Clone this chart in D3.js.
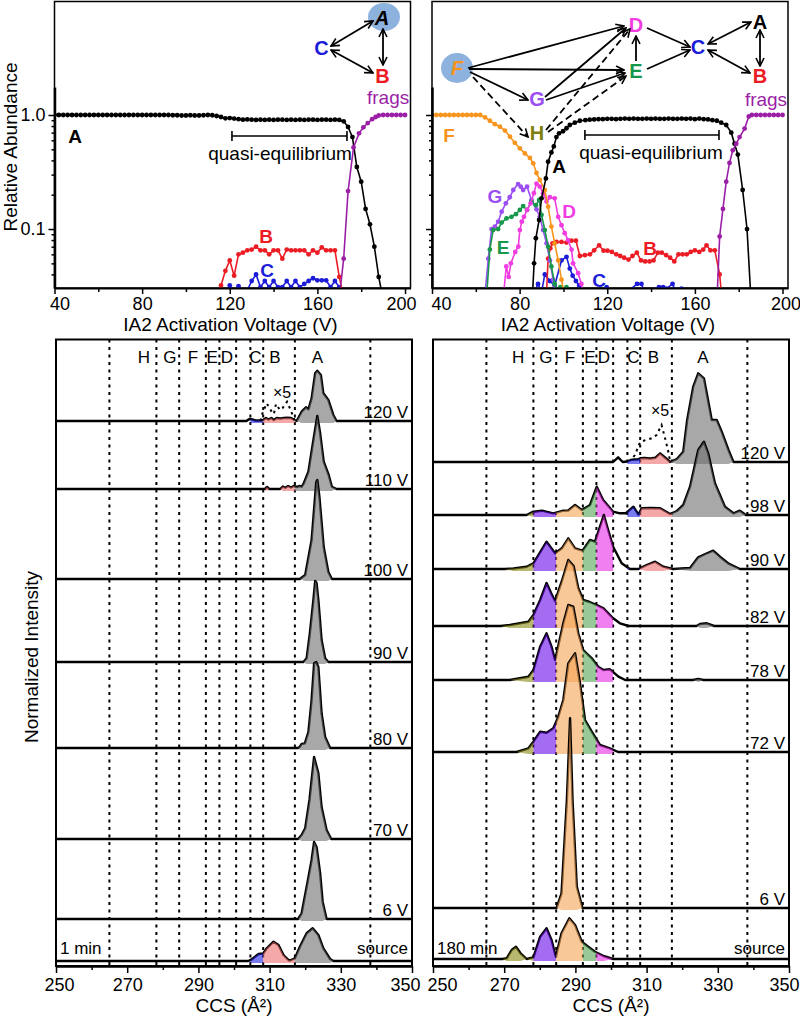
<!DOCTYPE html>
<html><head><meta charset="utf-8">
<script src="https://cdn.jsdelivr.net/npm/d3@7"></script>
<style>body{margin:0;background:#fff}svg{display:block}</style>
</head><body><svg id="c" width="800" height="1016"></svg>
<script>
// ================= DATA =================
const voltTicks = [40,60,80,100,120,140,160,180,200];
const voltLabels = [40,80,120,160,200];
const abundMajor = [0.1, 1];
const abundMinor = [0.04,0.05,0.06,0.07,0.08,0.09,0.2,0.3,0.4,0.5,0.6,0.7,0.8,0.9];

// top-left (1 min) relative abundances vs IA2 voltage
const tl_A = [[40,1],[42,1],[44,1],[46,1],[48,1],[50,1],[52,1],[54,1],[56,1],[58,1],[60,1],[62,1],[64,1],[66,1],[68,1],[70,1],[72,1],[74,1],[76,1],[78,1],[80,1],[82,1],[84,1],[86,1],[88,1],[90,1],[92,1],[94,0.995],[96,0.995],[98,0.99],[100,0.99],[102,0.995],[104,0.99],[106,0.99],[108,0.995],[110,1],[112,0.995],[114,0.98],[116,0.96],[118,0.935],[120,0.94],[122,0.93],[124,0.92],[126,0.91],[128,0.915],[130,0.91],[132,0.905],[134,0.91],[136,0.905],[138,0.91],[140,0.905],[142,0.91],[144,0.91],[146,0.905],[148,0.91],[150,0.905],[152,0.91],[154,0.905],[156,0.91],[158,0.91],[160,0.905],[162,0.91],[164,0.91],[166,0.905],[168,0.91],[170,0.905],[172,0.88],[174,0.785],[176,0.64],[178,0.35],[180,0.26],[182,0.15],[184,0.11],[186,0.07],[188,0.038],[190,0.024]];
const tl_B = [[114,0.025],[116,0.032],[118,0.043],[120,0.053],[122,0.039],[124,0.06],[126,0.062],[128,0.065],[130,0.066],[132,0.07],[134,0.065],[136,0.065],[138,0.06],[140,0.065],[142,0.065],[144,0.055],[146,0.066],[148,0.065],[150,0.065],[152,0.065],[154,0.065],[156,0.06],[158,0.065],[160,0.062],[162,0.069],[164,0.065],[166,0.065],[168,0.065],[170,0.038],[172,0.025]];
const tl_C = [[118,0.027],[120,0.032],[122,0.027],[124,0.0316],[126,0.027],[128,0.029],[130,0.035],[132,0.04],[134,0.031],[136,0.035],[138,0.031],[140,0.035],[142,0.031],[144,0.031],[146,0.035],[148,0.031],[150,0.035],[152,0.031],[154,0.033],[156,0.035],[158,0.037],[160,0.0355],[162,0.0355],[164,0.0355],[166,0.031],[168,0.035],[170,0.031],[172,0.026]];
const tl_frags = [[170,0.025],[172,0.055],[174,0.215],[176.5,0.52],[179,0.69],[181,0.78],[183,0.85],[185,0.92],[186.6,0.96],[188,0.99],[190,1],[192,1],[194,1],[196,1],[198,1],[200,1]];

// top-right (180 min)
const tr_F = [[40,1],[42,1],[44,1],[46,1],[48,1],[50,1],[52,1],[54,1],[56,1],[58,1],[60,1],[62,1],[64.2,0.954],[66.4,0.89],[68.7,0.83],[71,0.79],[73.3,0.73],[75.6,0.645],[77.8,0.57],[80.1,0.51],[82.4,0.46],[84.7,0.42],[86.2,0.377],[87.7,0.31],[89.2,0.27],[91.5,0.22],[93,0.157],[94.5,0.105],[96,0.075],[97.6,0.053],[99.1,0.036],[100.5,0.026]];
const tr_G = [[64.2,0.027],[65.7,0.055],[67.2,0.1],[68.7,0.105],[70.2,0.116],[71.8,0.142],[73.7,0.168],[75.5,0.19],[77.1,0.22],[79.3,0.248],[80.5,0.235],[81.6,0.22],[83.4,0.235],[85.4,0.18],[87.7,0.149],[89.2,0.128],[90.7,0.098],[92.3,0.075],[93.8,0.053],[95.3,0.036],[96.2,0.026]];
const tr_E = [[65,0.027],[66.4,0.066],[67.9,0.098],[70.2,0.1],[71.8,0.114],[74,0.124],[76.3,0.128],[78.3,0.135],[80.1,0.147],[81.6,0.159],[83.4,0.147],[85.4,0.174],[87.4,0.162],[88.9,0.18],[90,0.133],[91.5,0.098],[93,0.07],[94.5,0.047],[96,0.033],[97.4,0.027],[98.6,0.031],[100,0.027],[101.4,0.031],[102.6,0.026]];
const tr_D = [[72.7,0.027],[73.9,0.047],[75,0.038],[76,0.05],[78,0.063],[79.4,0.07],[80.1,0.098],[81,0.116],[82,0.128],[83.4,0.147],[85,0.168],[86.5,0.206],[87.7,0.25],[89.2,0.235],[90.7,0.206],[92.3,0.174],[93.8,0.19],[96,0.186],[97.6,0.128],[99.1,0.108],[100.6,0.092],[102.1,0.08],[103.7,0.066],[104.4,0.05],[106.7,0.041],[108.2,0.033],[109,0.026]];
const tr_A = [[85.9,0.027],[86.6,0.05],[87.4,0.083],[88.9,0.12],[90,0.186],[92,0.278],[93,0.39],[94.5,0.47],[95.6,0.53],[96.8,0.64],[98,0.69],[99.8,0.72],[101.4,0.765],[102.9,0.817],[105.2,0.856],[107.5,0.89],[110,0.9],[112,0.91],[114,0.915],[116,0.92],[118,0.92],[120,0.925],[122,0.925],[124,0.92],[126,0.925],[128,0.93],[130,0.925],[132,0.93],[134,0.925],[136,0.925],[138,0.93],[140,0.925],[142,0.93],[144,0.925],[146,0.925],[148,0.93],[150,0.925],[152,0.925],[154,0.93],[156,0.925],[158,0.93],[160,0.92],[162,0.93],[164,0.92],[166,0.915],[168,0.9],[170,0.89],[172,0.856],[174.3,0.817],[176.6,0.7],[178.1,0.56],[179.6,0.45],[181.8,0.22],[183.8,0.1],[185.5,0.026]];
const tr_B = [[92.2,0.026],[93,0.055],[94,0.068],[95,0.075],[96.8,0.077],[99.1,0.077],[101.4,0.076],[103.7,0.079],[105.7,0.079],[107.5,0.058],[109.8,0.059],[112.1,0.06],[114,0.065],[116.3,0.072],[118.3,0.0646],[120.1,0.0646],[122.1,0.063],[124.1,0.06],[125.9,0.058],[127.7,0.056],[129.7,0.054],[131.5,0.058],[133.5,0.062],[135.4,0.053],[137.3,0.052],[139.3,0.052],[141.1,0.053],[143.1,0.062],[144.9,0.062],[146.9,0.059],[148.7,0.056],[150.6,0.052],[152.5,0.06],[154.4,0.06],[156.3,0.06],[158.1,0.063],[160,0.065],[162,0.063],[163.8,0.066],[165.3,0.072],[167.1,0.065],[169.1,0.065],[171.3,0.04],[172.2,0.026]];
const tr_C = [[86,0.026],[88.4,0.033],[90,0.028],[91.5,0.04],[93.8,0.035],[96,0.032],[99.1,0.053],[101.4,0.057],[102.9,0.045],[104.2,0.039],[105.7,0.035],[107.2,0.032],[108.5,0.026],[118,0.026],[119.7,0.031],[121,0.026],[128,0.029],[130,0.029],[133.6,0.033],[135.6,0.033],[137,0.028],[143.6,0.031],[145.5,0.031],[147,0.03],[149.8,0.033],[151,0.029],[153.9,0.03],[155,0.026]];
const tr_frags = [[170.2,0.027],[171.3,0.086],[172.8,0.15],[174.3,0.26],[175.8,0.38],[177.3,0.49],[178.9,0.56],[180.4,0.64],[182.7,0.76],[184.6,0.97],[186,1],[188,1],[190,1],[192,1],[194,1],[196,1],[198,1],[200,1]];

// bottom panels: CCS axis and conformer regions
const ccsTicks = [250,260,270,280,290,300,310,320,330,340,350];
const ccsLabels = [250,270,290,310,330,350];
const dividerCCS = [265,278.2,284.6,292.1,295.9,300.6,304.6,308.2,317.1,338.3];
const regionNames = ["H","G","F","E","D","C","B","A"];
const regionFrom = [265,278.2,284.6,292.1,295.9,304.6,308.2,317.1];
const regionTo   = [278.2,284.6,292.1,295.9,300.6,308.2,317.1,338.3];
const regionLabelCCSLeft  = [274.7,282,288.5,293.9,298,306,311.5,323.4];
const regionLabelCCSRight = [273.9,281.7,288.5,294.1,298,306.3,311.9,325.8];

// arrival-time distributions [CCS, intensity (a.u.)]
const left_120 = [[250,0],[303.5,0],[304.3,2],[305.2,1.5],[306,0.5],[307.5,0.5],[308.2,1],[309,3],[309.7,1.5],[310.5,3],[311.2,1],[312,3],[313,2.5],[314,3],[315,3.3],[316,3],[317,1],[317.6,0],[319,9.3],[320.2,13.7],[320.9,11.7],[321.8,22.7],[322.8,47.7],[323.4,50.3],[324.4,46],[325.1,27.7],[326.5,21],[327.9,6],[328.8,0],[350,0]];
const left_120_x5 = [[307.5,0],[307.8,6],[309.2,17.7],[310.6,9.3],[311.2,7],[311.8,17],[312.9,11],[313.6,12.7],[314.9,19.3],[316.1,9.3],[317,1]];
const left_110 = [[250,0],[308.7,0],[309.3,2],[309.9,0],[313,0],[313.7,2.5],[314.4,1.2],[315.2,3],[316,1.5],[316.8,3],[317.6,2],[318.5,3],[319,2.3],[319.6,5.7],[320.9,17.3],[322.3,49],[323.4,73],[324.2,55.7],[325.2,27.3],[326.6,14],[327.5,2.3],[328.8,0],[350,0]];
const left_100 = [[250,0],[318.5,0],[320,4],[321.8,39],[323.1,97],[323.4,99],[324,82],[325.2,32],[326.5,7],[327.5,0],[350,0]];
const left_90 = [[250,0],[319.5,0],[320.4,3.7],[321.3,28.7],[322.3,62],[322.8,81],[323.2,79],[323.7,62],[324.6,22],[325.6,3.7],[326.5,0],[350,0]];
const left_80 = [[250,0],[318,0],[318.5,1.3],[319,4],[319.9,4.7],[320.9,16],[321.8,48],[322.5,84.7],[323.1,86],[323.7,81],[324.6,34.7],[325.6,11],[327,0],[350,0]];
const left_70 = [[250,0],[318,0],[319,4],[320,10.7],[321.2,39],[322.5,82],[323.7,65.7],[324.6,32],[326,9],[327.3,0],[350,0]];
const left_6 = [[250,0],[318,0],[319,5.7],[319.7,19],[320.6,35.7],[321.8,59],[322.5,77],[323.2,72],[324.2,45.7],[324.9,17.3],[326,0],[350,0]];
const left_src = [[250,0],[304,0],[305,1.7],[306.9,7],[308.2,7.5],[309.2,12.7],[311.1,19.3],[312.5,16],[313.9,6],[315.3,1],[315.7,0.5],[317.1,2.7],[318.5,14.3],[320.4,27.7],[322.1,32.7],[323.7,26],[325.1,12.7],[327,2],[327.9,0],[350,0]];

const right_120 = [[250,0],[300.6,0],[302,4.7],[303.3,0],[304.6,0.5],[305.5,2],[306.5,2.5],[307.5,2.5],[308.2,3.7],[309.5,4],[311,3.5],[312.5,4.3],[313.8,8.7],[315,5],[316,2],[316.6,0],[318.5,3],[320.3,10.3],[321.4,42],[323.1,75.3],[324.5,88.7],[326.1,83.7],[328.3,42],[329.7,42],[331.1,30.3],[333,12],[334.4,0],[350,0]];
const right_120_x5 = [[306.3,5],[306.7,7],[308.2,20],[309.8,22],[311.4,23.7],[312.8,27],[314.2,37],[315.1,25],[316,12],[316.6,1]];
const right_98 = [[250,0],[276.3,0],[278.2,3.3],[280.6,4.3],[283.8,1.7],[286.6,4.3],[288,4.5],[289.9,10],[291.8,5],[294.1,10],[296,28.3],[297.8,15],[300.6,3.3],[302.5,1.7],[304.1,1.7],[306.3,8.3],[307.7,0.5],[308.6,6.7],[311,7],[313.8,6.7],[316.6,1],[318.5,4],[320.3,10],[322.2,28.3],[324.5,65],[326.1,73.3],[327.3,61.7],[329.2,31.7],[332,8.3],[334.4,1.7],[336.2,4.3],[337.9,0],[350,0]];
const right_90 = [[250,0],[270,0],[272.6,0.5],[276.3,2.3],[278.2,5.7],[281.9,27.3],[284.3,15.7],[286.2,20.7],[288,30.7],[289.9,20.7],[292,18.3],[294.1,29],[295.5,27.3],[298,54],[299.2,39],[300.6,22.3],[303,5.7],[305.3,0],[307.7,0],[310,4],[312.4,7.3],[314.7,2.3],[317.4,0],[322.2,1],[324.5,11.7],[326.5,15],[328.7,18.3],[330.6,12.3],[332.9,5.7],[336.2,0],[350,0]];
const right_82 = [[250,0],[269,0],[271.6,1],[276.8,4.3],[278.2,11],[280.1,26],[281.9,43],[283.3,32],[284.3,25],[286.2,45],[288,66],[289.5,60],[290.8,38],[292.2,26],[294,24],[296,21],[297.9,17.7],[300.6,7.7],[302.5,2.7],[305,0],[324,0],[325,2],[326.9,2.7],[329,0],[350,0]];
const right_78 = [[250,0],[271.6,0],[276.8,3.3],[278.2,10],[280.1,33.3],[281.9,46.7],[283.3,33.3],[284.3,20],[286.6,56.7],[288,75],[289.4,73.3],[290.8,46.7],[292.2,30],[294.6,21.7],[296.4,13.3],[297.9,10],[299.7,10.7],[302.1,3.3],[304,0],[323,0],[324.5,1],[326,0],[350,0]];
const right_72 = [[250,0],[273.5,0],[276.8,3.7],[278.2,10.3],[280.1,20.3],[281.9,19.3],[283.8,23.7],[285.2,35.3],[286.6,52],[288,88.7],[289.9,98.7],[291.3,68.7],[292.7,32],[294.6,20.3],[296.9,7],[299.7,3.7],[302,0],[350,0]];
const right_6 = [[250,0],[284.7,0],[286.1,14.7],[287.6,108],[288.5,189.7],[289.2,108],[290.4,21.3],[292,0],[350,0]];
const right_src = [[250,0],[269.5,0],[270.7,0.7],[272.1,9],[273.3,12.3],[274.6,5.7],[276.3,0],[278.2,1.7],[280.1,22.3],[281.9,30.7],[283.3,19],[284.5,2.3],[286.1,25.7],[288.3,40.7],[289.9,34],[291.8,17.3],[293.6,12.3],[295.5,7.3],[297.9,3],[300.6,0],[350,0]];

const leftLabels  = ["120 V","110 V","100 V","90 V","80 V","70 V","6 V","source"];
const rightLabels = ["120 V","98 V","90 V","82 V","78 V","72 V","6 V","source"];

// ================= LAYOUT / STYLE =================
const FONT = '"Liberation Sans", Arial, Helvetica, sans-serif';
const col = {A:"#000", B:"#ec1c24", C:"#1c1cd8", D:"#f03ce0", E:"#17984a", F:"#f7941d", G:"#9b4ef2", H:"#7f7f0f", frags:"#9b1fa6"};
const regionColor = {H:"#898911", G:"#670ae6", F:"#f5a353", E:"#53a353", D:"#e62be6", C:"#2323e6", B:"#ee6e6e", A:"#6e6e6e"};
const leftBase  = [421,489,579,662,748,839,919,961];
const rightBase = [462,515,569,626,680,752,908,959];

const svg = d3.select("#c");
svg.append("rect").attr("width",800).attr("height",1016).attr("fill","#fff");
const defs = svg.append("defs");
defs.append("marker").attr("id","arr").attr("viewBox","0 0 10 10").attr("refX",9).attr("refY",5)
  .attr("markerWidth",10).attr("markerHeight",10).attr("markerUnits","userSpaceOnUse").attr("orient","auto-start-reverse")
  .append("path").attr("d","M1,1 L9,5 L1,9").attr("fill","none").attr("stroke","#000").attr("stroke-width",1.6);

function txt(g, x, y, s, o={}) {
  const t = g.append("text").attr("x",x).attr("y",y).text(s)
    .attr("font-family",FONT).attr("font-size",o.size||18).attr("fill",o.color||"#000")
    .attr("text-anchor",o.anchor||"middle");
  if (o.bold) t.attr("font-weight","bold");
  if (o.italic) t.attr("font-style","italic");
  if (o.rotate) t.attr("transform",`rotate(${o.rotate},${x},${y})`);
  return t;
}

// ---------- top panels ----------
function topPanel(x0, x1, series, showY, id, edgeShift) {
  const g = svg.append("g");
  const x = d3.scaleLinear().domain([40,202.5]).range([x0,x1]);
  const y = d3.scaleLog().domain([0.0304,1.76]).range([288,87]);
  g.append("rect").attr("x",x0).attr("y",1.5).attr("width",x1-x0).attr("height",288-1.5)
    .attr("fill","none").attr("stroke","#000").attr("stroke-width",1.5);
  defs.append("clipPath").attr("id",id).append("rect").attr("x",x0).attr("y",0).attr("width",x1-x0).attr("height",288);
  const pg = g.append("g").attr("clip-path",`url(#${id})`);
  series.forEach(s => {
    pg.append("path").datum(s.data).attr("fill","none").attr("stroke",s.color).attr("stroke-width",1.6)
      .attr("d", d3.line().x(d=>x(d[0])).y(d=>y(d[1])));
    pg.selectAll(null).data(s.data).enter().append("circle")
      .attr("cx",d=>x(d[0])).attr("cy",d=>y(d[1])).attr("r",2.4).attr("fill",s.color);
  });
  // x axis
  const ax = g.append("g").attr("transform","translate(0,288)")
    .call(d3.axisBottom(x).tickValues(voltTicks).tickFormat(d=>voltLabels.includes(d)?d:"").tickSize(6).tickSizeOuter(0).tickPadding(3));
  ax.attr("font-size",18).attr("font-family",FONT);
  ax.select(".domain").attr("stroke-width",2);
  ax.selectAll(".tick line").attr("stroke-width",1.5).attr("y2",d=>voltLabels.includes(d)?6:4);
  ax.selectAll(".tick text").attr("dx",d=> d===40 ? edgeShift[0] : d===200 ? edgeShift[1] : 0);
  // y axis
  const ay = g.append("g").attr("transform",`translate(${x0},0)`)
    .call(d3.axisLeft(y).tickValues(abundMajor.concat(abundMinor))
      .tickFormat(d=> showY && abundMajor.includes(d) ? d3.format(".1f")(d) : "").tickSize(6).tickSizeOuter(0).tickPadding(3));
  ay.attr("font-size",18).attr("font-family",FONT);
  ay.select(".domain").attr("stroke-width",2.5);
  ay.selectAll(".tick line").attr("stroke-width",1.5).attr("x2",d=>abundMajor.includes(d)?-6:-3);
  txt(g, (x0+x1)/2 - 2, 331, "IA2 Activation Voltage (V)", {size:19});
  return {g, x, y};
}

const TL = topPanel(54.5, 410.5, [
  {data:tl_C, color:col.C}, {data:tl_B, color:col.B}, {data:tl_A, color:col.A}, {data:tl_frags, color:col.frags}
], true, "clipTL", [5,-4]);
const TR = topPanel(432, 788, [
  {data:tr_C, color:col.C}, {data:tr_B, color:col.B}, {data:tr_G, color:col.G}, {data:tr_E, color:col.E},
  {data:tr_D, color:col.D}, {data:tr_F, color:col.F}, {data:tr_A, color:col.A}, {data:tr_frags, color:col.frags}
], false, "clipTR", [9,3]);

txt(svg, 17, 147, "Relative Abundance", {size:19, rotate:-90});

// annotations, top-left
txt(TL.g, 75, 143, "A", {size:19, bold:true});
txt(TL.g, 266, 243, "B", {size:19, bold:true, color:col.B});
txt(TL.g, 267, 277, "C", {size:19, bold:true, color:col.C});
txt(TL.g, 367, 104, "frags", {size:19, color:col.frags, anchor:"start"});
function qeBar(P, v0, v1, yy, tx, ty) {
  const a = P.x(v0), b = P.x(v1);
  P.g.append("path").attr("d",`M${a},${yy-5}V${yy+5}M${a},${yy}H${b}M${b},${yy-5}V${yy+5}`)
    .attr("stroke","#000").attr("stroke-width",1.6).attr("fill","none");
  txt(P.g, tx, ty, "quasi-equilibrium", {size:19});
}
qeBar(TL, 121, 173.5, 136, 280, 160);

// annotations, top-right
txt(TR.g, 449, 142, "F", {size:19, bold:true, color:col.F});
txt(TR.g, 559, 173, "A", {size:19, bold:true});
txt(TR.g, 495, 203, "G", {size:19, bold:true, color:col.G});
txt(TR.g, 503, 254, "E", {size:19, bold:true, color:col.E});
txt(TR.g, 569, 218, "D", {size:19, bold:true, color:col.D});
txt(TR.g, 650, 255, "B", {size:19, bold:true, color:col.B});
txt(TR.g, 599, 287, "C", {size:19, bold:true, color:col.C});
txt(TR.g, 766, 106, "frags", {size:19, color:col.frags});
qeBar(TR, 109.8, 171, 135, 651, 159);

// kinetic schemes
function arrow(g, x1,y1,x2,y2, dbl, dashed) {
  const p = g.append("line").attr("x1",x1).attr("y1",y1).attr("x2",x2).attr("y2",y2)
    .attr("stroke","#000").attr("stroke-width",1.8).attr("marker-end","url(#arr)");
  if (dbl) p.attr("marker-start","url(#arr)");
  if (dashed) p.attr("stroke-dasharray","7,4");
}
const sch = svg.append("g");
sch.append("ellipse").attr("cx",384).attr("cy",17).attr("rx",16).attr("ry",14).attr("fill","#8eb2de");
txt(sch, 382, 25, "A", {size:20, bold:true, italic:true});
txt(sch, 321.5, 55, "C", {size:20, bold:true, color:col.C});
txt(sch, 382.5, 83, "B", {size:20, bold:true, color:col.B});
arrow(sch, 331,46, 373,21, true);
arrow(sch, 331,50, 373,73, true);
arrow(sch, 383,29, 383,65, true);

sch.append("ellipse").attr("cx",457).attr("cy",68).attr("rx",16).attr("ry",15).attr("fill","#8eb2de");
txt(sch, 457, 75, "F", {size:20, bold:true, italic:true, color:col.F});
txt(sch, 537, 106, "G", {size:20, bold:true, color:col.G});
txt(sch, 537, 140, "H", {size:20, bold:true, color:col.H});
txt(sch, 636, 32, "D", {size:20, bold:true, color:col.D});
txt(sch, 636, 78, "E", {size:20, bold:true, color:col.E});
txt(sch, 698, 54, "C", {size:20, bold:true, color:col.C});
txt(sch, 760, 29, "A", {size:20, bold:true});
txt(sch, 760, 83, "B", {size:20, bold:true, color:col.B});
arrow(sch, 468,68, 624,26);
arrow(sch, 469,69, 624,70);
arrow(sch, 470,72, 528,100);
arrow(sch, 473,77, 528,137, false, true);
arrow(sch, 545,97, 626,28);
arrow(sch, 546,100, 625,73);
arrow(sch, 546,130, 630,29, false, true);
arrow(sch, 548,132, 626,76, false, true);
arrow(sch, 636,61, 636,36);
arrow(sch, 647,28, 690,47);
arrow(sch, 647,69, 690,50);
arrow(sch, 708,44, 751,22, true);
arrow(sch, 708,50, 750,73, true);
arrow(sch, 760,30, 760,66, true);

// ---------- bottom panels ----------
function bottomPanel(x0, x1, traces, bases, labels, x5, x5label, letterCCS, timeLabel, id, edgeShift) {
  const g = svg.append("g");
  const x = d3.scaleLinear().domain([250,350]).range([x0,x1]);
  const top = 339.5, bot = 966;
  defs.append("clipPath").attr("id",id).append("rect").attr("x",x0).attr("y",top).attr("width",x1-x0).attr("height",bot-top);
  regionNames.forEach((r,i) => {
    defs.append("clipPath").attr("id",`${id}-${r}`).append("rect")
      .attr("x",x(regionFrom[i])).attr("y",top).attr("width",x(regionTo[i])-x(regionFrom[i])).attr("height",bot-top);
  });
  // dotted dividers
  g.selectAll(null).data(dividerCCS).enter().append("line")
    .attr("x1",d=>x(d)).attr("x2",d=>x(d)).attr("y1",top).attr("y2",bot)
    .attr("stroke","#000").attr("stroke-width",2).attr("stroke-dasharray","3,4.5");
  // region letters
  regionNames.forEach((r,i) => txt(g, x(letterCCS[i]), 363, r, {size:17}));
  const pg = g.append("g").attr("clip-path",`url(#${id})`);
  traces.forEach((tr,i) => {
    const base = bases[i];
    const y = d3.scaleLinear().domain([0,100]).range([base, base-100]);
    pg.append("path").datum(tr).attr("fill","none").attr("stroke","#000").attr("stroke-width",2.4)
      .attr("stroke-linejoin","round").attr("d", d3.line().x(d=>x(d[0])).y(d=>y(d[1])));
    const area = d3.area().x(d=>x(d[0])).y0(d=> d[1]>0.3 ? base+2 : base).y1(d=>y(d[1]));
    regionNames.forEach(r => {
      pg.append("path").datum(tr).attr("d",area).attr("fill",regionColor[r]).attr("fill-opacity",0.6)
        .attr("clip-path",`url(#${id}-${r})`);
    });
    if (i===0) {
      pg.append("path").datum(x5).attr("fill","none").attr("stroke","#000").attr("stroke-width",2)
        .attr("stroke-dasharray","2.5,4").attr("d", d3.line().x(d=>x(d[0])).y(d=>y(d[1])));
    }
    const ly = i===traces.length-1 ? 954 : base-3;
    txt(g, x1-4, ly, labels[i], {size:17, anchor:"end"});
  });
  txt(g, x5label[0], x5label[1], "×5", {size:16});
  txt(g, x0+4, 954, timeLabel, {size:17, anchor:"start"});
  g.append("rect").attr("x",x0).attr("y",top).attr("width",x1-x0).attr("height",bot-top)
    .attr("fill","none").attr("stroke","#000").attr("stroke-width",2);
  const ax = g.append("g").attr("transform",`translate(0,${bot})`)
    .call(d3.axisBottom(x).tickValues(ccsTicks).tickFormat(d=>ccsLabels.includes(d)?d:"").tickSize(7).tickSizeOuter(0).tickPadding(5));
  ax.attr("font-size",18).attr("font-family",FONT);
  ax.select(".domain").attr("stroke-width",2.5);
  ax.selectAll(".tick line").attr("stroke-width",1.5).attr("y2",d=>ccsLabels.includes(d)?7:4);
  ax.selectAll(".tick text").attr("dx",d=> d===250 ? edgeShift[0] : d===350 ? edgeShift[1] : 0);
  txt(g, (x0+x1)/2, 1012, "CCS (Å²)", {size:19});
  return {g,x};
}

bottomPanel(56, 412, [left_120,left_110,left_100,left_90,left_80,left_70,left_6,left_src],
  leftBase, leftLabels, left_120_x5, [282,398], regionLabelCCSLeft, "1 min", "clipBL", [3,-7]);
bottomPanel(433, 789, [right_120,right_98,right_90,right_82,right_78,right_72,right_6,right_src],
  rightBase, rightLabels, right_120_x5, [660,416], regionLabelCCSRight, "180 min", "clipBR", [9,-5]);

txt(svg, 38, 657, "Normalized Intensity", {size:19, rotate:-90});
</script>
</body></html>
